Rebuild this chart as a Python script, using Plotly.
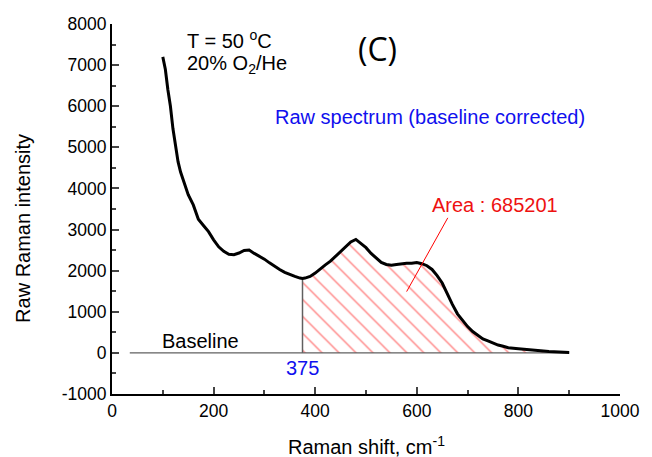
import plotly.graph_objects as go

shift = [100, 105, 110, 115, 120, 125, 130, 135, 140, 145, 150, 160, 170, 180, 190,
         200, 210, 220, 230, 240, 250, 260, 270, 280, 290, 300, 310, 320, 330, 340,
         350, 360, 370, 375, 380, 390, 400, 410, 420, 430, 440, 450, 460, 470, 480,
         490, 500, 510, 520, 530, 540, 550, 560, 570, 580, 590, 600, 610, 620, 630,
         640, 650, 660, 670, 680, 690, 700, 710, 720, 730, 740, 750, 760, 770, 780,
         800, 820, 840, 860, 880, 900]
intensity = [7200, 6900, 6400, 6000, 5450, 5000, 4650, 4400, 4200, 4000, 3850, 3600, 3250, 3100, 2950,
             2750, 2580, 2470, 2400, 2390, 2430, 2490, 2500, 2420, 2360, 2280, 2190, 2100, 2030, 1960,
             1900, 1860, 1820, 1810, 1820, 1860, 1940, 2050, 2140, 2230, 2350, 2480, 2600, 2700, 2760,
             2660, 2560, 2420, 2300, 2200, 2150, 2130, 2150, 2170, 2180, 2180, 2200, 2170, 2120, 2030,
             1880, 1700, 1430, 1180, 950, 780, 640, 520, 420, 340, 290, 240, 190, 160, 125,
             100, 75, 55, 35, 20, 10]

area_start = 375
area_value = 685201
baseline_x = [35, 900]
baseline_y = [0, 0]

x_ticks = [0, 200, 400, 600, 800, 1000]
y_ticks = [-1000, 0, 1000, 2000, 3000, 4000, 5000, 6000, 7000, 8000]
y_tick_labels = ["-1000", "0", "1000", "2000", "3000", "4000", "5000", "6000", "7000", "8000"]

font = "Liberation Sans, Arial, sans-serif"

area_x = [x for x in shift if x >= area_start]
area_y = [y for x, y in zip(shift, intensity) if x >= area_start]
start_y = area_y[0]

fig = go.Figure()

# hatched area
fig.add_trace(go.Scatter(
    x=[area_start] + area_x + [area_x[-1]],
    y=[0] + area_y + [0],
    mode="lines", line=dict(width=0, color="rgba(0,0,0,0)"),
    fill="toself", fillcolor="white",
    fillpattern=dict(shape="\\", fgcolor="#ff0000", bgcolor="white", size=12, solidity=0.11),
    hoverinfo="skip", showlegend=False))

# baseline
fig.add_trace(go.Scatter(x=baseline_x, y=baseline_y, mode="lines",
                         line=dict(color="#606060", width=1.2), showlegend=False))
# vertical line at start
fig.add_trace(go.Scatter(x=[area_start, area_start], y=[0, start_y], mode="lines",
                         line=dict(color="#606060", width=1.5), showlegend=False))

# spectrum
fig.add_trace(go.Scatter(x=shift, y=intensity, mode="lines",
                         line=dict(color="black", width=3), showlegend=False))

# pointer line for area label
fig.add_trace(go.Scatter(x=[661, 580], y=[3285, 1491], mode="lines",
                         line=dict(color="red", width=1), showlegend=False))

ann = [
    dict(x=143, y=7616, text="T = 50 <sup>o</sup>C", xanchor="left", yanchor="middle",
         font=dict(size=20, color="black", family=font)),
    dict(x=143, y=7007, text="20% O<sub>2</sub>/He", xanchor="left", yanchor="middle",
         font=dict(size=20, color="black", family=font)),
    dict(x=522, y=7400, text="(C)", xanchor="center", yanchor="middle",
         font=dict(size=32, color="black", family="Open Sans, sans-serif")),
    dict(x=316, y=5742, text="Raw spectrum (baseline corrected)", xanchor="left", yanchor="middle",
         font=dict(size=20, color="#1010ee", family=font)),
    dict(x=625, y=3601, text="Area : %d" % area_value, xanchor="left", yanchor="middle",
         font=dict(size=20, color="#ee1111", family=font)),
    dict(x=94, y=292, text="Baseline", xanchor="left", yanchor="middle",
         font=dict(size=20, color="black", family=font)),
    dict(x=area_start, y=-365, text=str(area_start), xanchor="center", yanchor="middle",
         font=dict(size=20, color="#1010ee", family=font)),
]
for a in ann:
    a.update(xref="x", yref="y", showarrow=False)

# axis titles placed as paper annotations
ann.append(dict(xref="paper", yref="paper", x=(21 - 112) / 519, y=(394 - 228) / 370,
                text="Raw Raman intensity", textangle=-90, showarrow=False,
                xanchor="center", yanchor="middle", font=dict(size=20, color="black", family=font)))
ann.append(dict(xref="paper", yref="paper", x=0.5, y=-(446 - 394) / 370,
                text="Raman shift, cm<sup>-1</sup>", showarrow=False,
                xanchor="center", yanchor="middle", font=dict(size=20, color="black", family=font)))

fig.update_layout(
    width=652, height=457,
    margin=dict(l=112, r=21, t=24, b=63),
    plot_bgcolor="white", paper_bgcolor="white",
    font=dict(family=font, size=17.5, color="black"),
    annotations=ann,
    showlegend=False,
)
fig.update_xaxes(range=[0, 1000], tickvals=x_ticks, ticks="inside", ticklen=7, tickwidth=1.5,
                 showline=True, linecolor="black", linewidth=2, showgrid=False, zeroline=False,
                 minor=dict(dtick=100, ticks="inside", ticklen=4, tickwidth=1.5, showgrid=False),
                 tickfont=dict(size=17.5))
fig.update_yaxes(range=[-1000, 8000], tickvals=y_ticks, ticktext=y_tick_labels,
                 ticks="inside", ticklen=7, tickwidth=1.5,
                 showline=True, linecolor="black", linewidth=2, showgrid=False, zeroline=False,
                 minor=dict(dtick=500, ticks="inside", ticklen=4, tickwidth=1.5, showgrid=False),
                 tickfont=dict(size=17.5))

fig.write_html("out.html")
